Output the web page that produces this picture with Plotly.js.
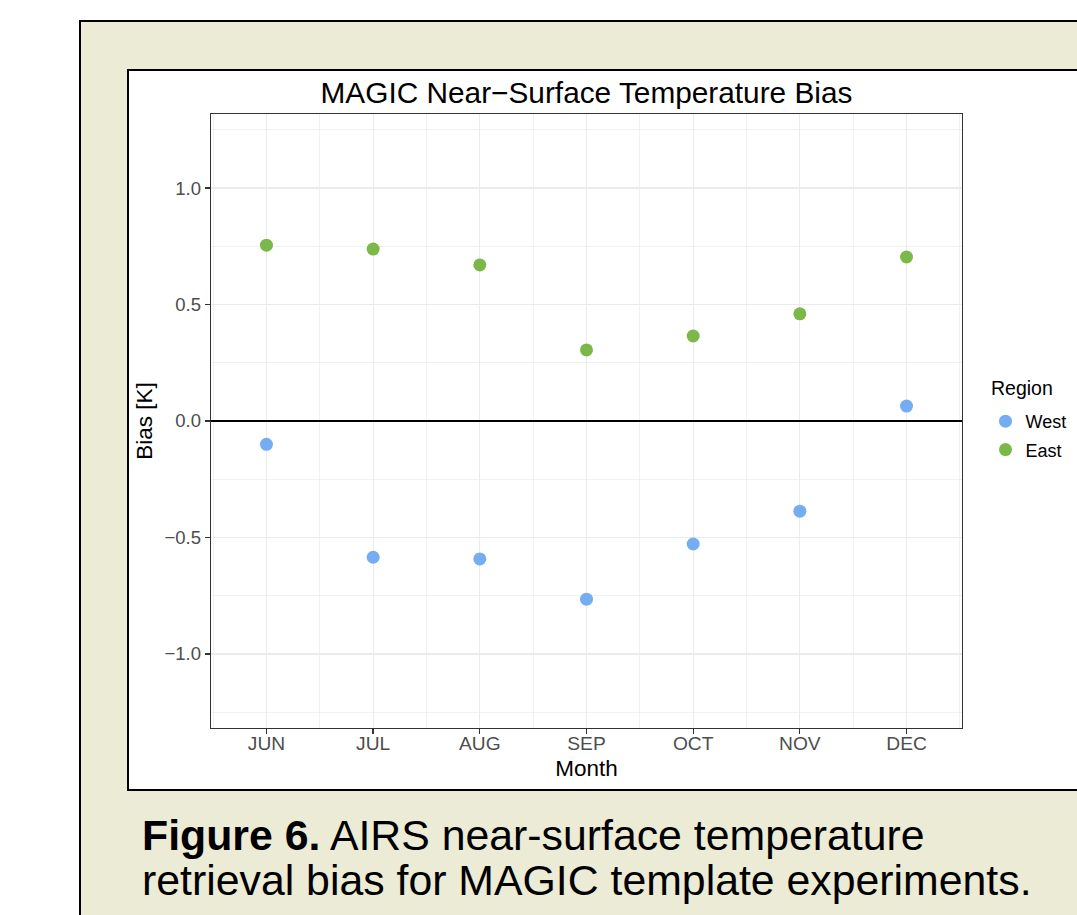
<!DOCTYPE html>
<html>
<head>
<meta charset="utf-8">
<script src="https://cdn.plot.ly/plotly-3.0.1.min.js"></script>
<style>
  html, body { margin:0; padding:0; width:1077px; height:915px; overflow:hidden; background:#ffffff; }
  #outer { position:absolute; left:79px; top:20px; width:1100px; height:1000px; background:#ECEBD5; border:2.5px solid #000; box-sizing:border-box; }
  #inner { position:absolute; left:127px; top:69px; width:1100px; height:722px; background:#ffffff; border:2.5px solid #000; box-sizing:border-box; }
  #chart { position:absolute; left:0; top:0; width:1077px; height:915px; }
</style>
</head>
<body>
<div id="outer"></div>
<div id="inner"></div>
<div id="chart"></div>
<script>
// ---- data ----
const months = ['JUN', 'JUL', 'AUG', 'SEP', 'OCT', 'NOV', 'DEC'];
const westBias = [-0.100, -0.585, -0.592, -0.765, -0.528, -0.387, 0.064];
const eastBias = [0.755, 0.738, 0.670, 0.305, 0.365, 0.460, 0.704];
const regionNames = ['West', 'East'];
const legendTitle = 'Region';
const yTickVals = [-1.0, -0.5, 0.0, 0.5, 1.0];
const yTickText = ['\u22121.0', '\u22120.5', '0.0', '0.5', '1.0'];
const titleText = 'MAGIC Near\u2212Surface Temperature Bias';
const captionLine1 = '<b>Figure 6.</b> AIRS near-surface temperature';
const captionLine2 = 'retrieval bias for MAGIC template experiments.';

const monthIndex = months.map((m, i) => i);
const FONT = '"Liberation Sans", Arial, Helvetica, sans-serif';
const W = 1077, H = 915;
const L = 211, R = 962, T = 114, B = 728;
const px2x = p => (p - L) / (R - L);
const px2y = p => (B - p) / (B - T);

const traces = [
  { x: monthIndex, y: westBias, name: regionNames[0], legendgroup: 'w', type: 'scatter', mode: 'markers',
    marker: { color: '#74ADF2', size: 13, line: { width: 0 } }, hoverinfo: 'x+y' },
  { x: monthIndex, y: eastBias, name: regionNames[1], legendgroup: 'e', type: 'scatter', mode: 'markers',
    marker: { color: '#7BB84A', size: 13, line: { width: 0 } }, hoverinfo: 'x+y' }
];

const layout = {
  width: W, height: H,
  margin: { l: L, r: W - R, t: T, b: H - B, pad: 0, autoexpand: false },
  paper_bgcolor: 'rgba(0,0,0,0)',
  plot_bgcolor: '#ffffff',
  font: { family: FONT, color: '#000' },
  showlegend: true,
  title: { text: titleText, font: { size: 29.8, color: '#000', family: FONT },
           x: 0.5, xref: 'paper', xanchor: 'center', y: 1 - 93 / H, yref: 'container', yanchor: 'middle' },
  xaxis: {
    range: [-0.52, 6.52], tickmode: 'array', tickvals: monthIndex, ticktext: months,
    showgrid: true, gridcolor: '#EBEBEB', gridwidth: 1.2,
    minor: { tick0: 0.5, dtick: 1, showgrid: true, gridcolor: '#EBEBEB', gridwidth: 0.7 },
    zeroline: false, showline: true, mirror: true, linecolor: '#333333', linewidth: 1.3,
    ticks: 'outside', ticklen: 5, tickwidth: 1.3, tickcolor: '#333333',
    ticklabelstandoff: -7,
    tickfont: { size: 19.2, color: '#4D4D4D', family: FONT },
    title: { text: 'Month', font: { size: 22.5, color: '#000', family: FONT }, standoff: 7 }
  },
  yaxis: {
    range: [-1.318, 1.318], tickmode: 'array', tickvals: yTickVals, ticktext: yTickText,
    showgrid: true, gridcolor: '#EBEBEB', gridwidth: 1.2,
    minor: { tick0: 0, dtick: 0.25, showgrid: true, gridcolor: '#EBEBEB', gridwidth: 0.7 },
    zeroline: true, zerolinecolor: '#000000', zerolinewidth: 1.5,
    showline: true, mirror: true, linecolor: '#333333', linewidth: 1.3,
    ticks: 'outside', ticklen: 5, tickwidth: 1.3, tickcolor: '#333333',
    tickfont: { size: 18.5, color: '#4D4D4D', family: FONT },
    title: { text: 'Bias [K]', font: { size: 22.5, color: '#000', family: FONT }, standoff: 5 }
  },
  legend: {
    x: px2x(985.5), xanchor: 'left', y: px2y(403), yanchor: 'top',
    bgcolor: 'rgba(0,0,0,0)', borderwidth: 0,
    font: { size: 18, color: '#000', family: FONT },
    traceorder: 'grouped', tracegroupgap: 2
  },
  annotations: [
    { text: legendTitle, xref: 'paper', yref: 'paper', x: px2x(989), y: px2y(388),
      xanchor: 'left', yanchor: 'middle', showarrow: false,
      font: { size: 19.5, color: '#000', family: FONT } },
    { text: captionLine1, xref: 'paper', yref: 'paper', x: px2x(140), y: px2y(835),
      xanchor: 'left', yanchor: 'middle', showarrow: false, align: 'left',
      font: { size: 42.8, color: '#000', family: FONT } },
    { text: captionLine2, xref: 'paper', yref: 'paper', x: px2x(140), y: px2y(880),
      xanchor: 'left', yanchor: 'middle', showarrow: false, align: 'left',
      font: { size: 42.8, color: '#000', family: FONT } }
  ]
};

Plotly.newPlot('chart', traces, layout, { displayModeBar: false, staticPlot: true });
</script>
</body>
</html>
